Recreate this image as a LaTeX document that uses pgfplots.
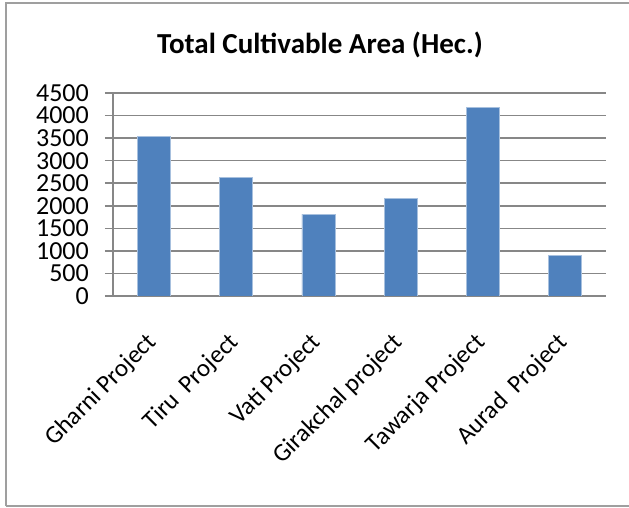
\documentclass[border=0pt]{standalone}
\usepackage{pgfplots}
\pgfplotsset{compat=1.18}
\usepackage{fontspec}
\setmainfont{Carlito}
\definecolor{barblue}{HTML}{4F81BD}
\definecolor{baredge}{HTML}{A7C0DE}
\definecolor{gridgray}{HTML}{878787}
\begin{document}
\begin{tikzpicture}[x=1bp,y=1bp]
\useasboundingbox (-113,-212) rectangle (516,296);
\draw[gridgray!80, line width=2bp] (-107,-210) -- (-107,293) -- (520,293);
\draw[gridgray!80, line width=2bp] (-107,-210) -- (520,-210);
\node[font=\fontsize{29bp}{32bp}\selectfont\bfseries] at (207,251) {Total Cultivable Area (Hec.)};
\begin{axis}[
  at={(0,0)}, anchor=south west,
  scale only axis, width=493bp, height=203bp,
  xmin=-0.5, xmax=5.5, ymin=0, ymax=4500,
  axis x line*=bottom, axis y line*=left,
  axis line style={gridgray, line width=1.5bp, -},
  ytick={0,500,...,4500},
  ymajorgrids, grid style={gridgray, line width=1.5bp},
  major tick length=8bp,
  tick align=outside,
  tick style={gridgray, line width=1.5bp},
  xtick={0,...,5},
  xticklabels={Gharni Project, Tiru~~Project, Vati Project, Girakchal project, Tawarja Project, Aurad~~Project},
  x tick style={draw=none},
  minor xtick={-0.5,0.5,...,5.5},
  minor tick length=8bp,
  minor x tick style={gridgray, line width=1.5bp},
  yticklabel style={font=\fontsize{26bp}{26bp}\selectfont, anchor=east, inner sep=0pt, xshift=-16bp},
  xticklabel style={font=\fontsize{25bp}{25bp}\selectfont, xshift=-9bp, yshift=-27bp, rotate=45, anchor=north east, inner sep=0pt},
  /pgf/number format/assume math mode=true,
  /pgf/number format/1000 sep={},
  ]
\addplot[ybar, bar width=33bp, fill=barblue, draw=baredge, line width=0.8bp] coordinates {
  (0,3540) (1,2620) (2,1815) (3,2165) (4,4170) (5,895)
};
\end{axis}
\end{tikzpicture}
\end{document}
